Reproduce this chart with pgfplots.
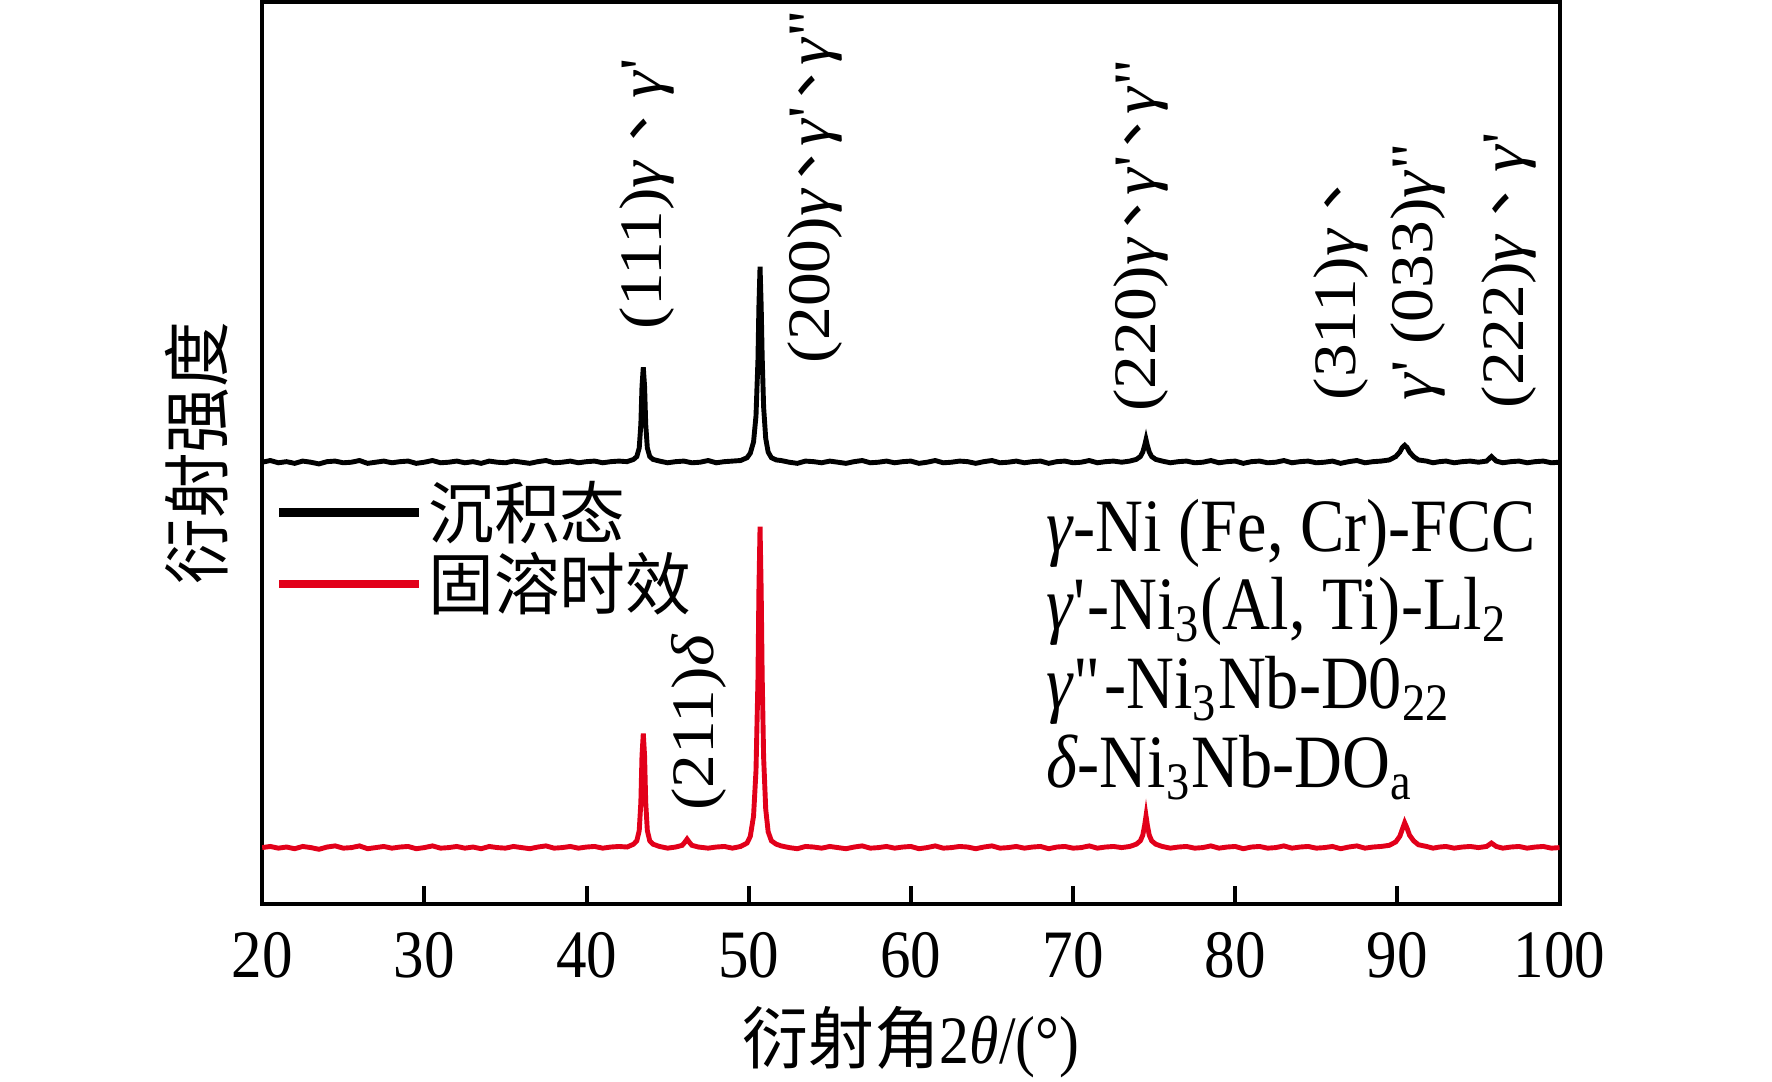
\documentclass[border=0pt]{standalone}
\usepackage{fontspec}
\setmainfont{Liberation Serif}[FakeStretch=0.88]
\newfontfamily\cjk{Noto Sans CJK SC}[FakeStretch=0.97]
\newfontfamily\cjktc{Noto Sans CJK TC}[FakeStretch=1.12]
\newfontfamily\tickfont{Liberation Serif}[FakeStretch=0.9]
\newfontfamily\rotfont{Liberation Serif}[FakeStretch=1.12]
\usepackage{pgfplots}
\pgfplotsset{compat=1.18}
\definecolor{xred}{RGB}{226,0,26}
\newcommand{\g}{\textit{γ}}
\newcommand{\dn}{\hspace{-0.05em}{\cjktc 、}\hspace{-0.05em}}
\newcommand{\dnt}{\hspace{-0.2em}{\cjktc 、}\hspace{-0.22em}}
\newcommand{\p}{\textquotesingle}
\newcommand{\pp}{\textquotedbl}
\begin{document}
\begin{tikzpicture}
\begin{axis}[
  name=ax,
  scale only axis,
  width=344.4pt, height=239.4pt,
  xmin=20, xmax=100, ymin=0, ymax=798,
  xtick={20,30,...,100},
  ytick=\empty,
  xtick pos=left,
  tick align=inside,
  major tick length=4.8pt,
  axis line style={line width=1.05pt},
  tick style={line width=1.05pt, black},
  /pgf/number format/assume math mode=true,
  xticklabel style={font=\tickfont\fontsize{18}{20}\selectfont, yshift=-3.9pt},
  xlabel={{\cjk 衍射角}2\textit{θ}/(°)},
  xlabel style={at={(axis description cs:0.5,0)}, anchor=north, yshift=-27pt, inner sep=0pt, font=\fontsize{18}{18}\selectfont},
  ylabel={\cjk 衍射强度},
  ylabel style={at={(axis description cs:-0.0253,0.5)}, anchor=south, inner sep=0pt, font=\fontsize{18}{18}\selectfont},
  legend style={at={(axis cs:20.75,380)}, anchor=north west, draw=none, fill=none, inner sep=0pt, row sep=-0.7pt, font=\fontsize{18}{18}\selectfont\cjk, nodes={inner sep=1.5pt}, /tikz/every even column/.append style={column sep=2.5pt}},
  legend cell align=left,
  legend image code/.code={\draw[#1, line width=2.2pt] (0pt,0pt) -- (37pt,0pt);},
]
\addplot[black, line width=1.3pt, mark=none] coordinates {
(20,391) (20.5,392.5) (21,390.5) (21.5,391.5) (22,390) (22.5,392) (23,391) (23.5,389.5) (24,391.5) (24.5,392)
(25,390.5) (25.5,391) (26,392.5) (26.5,390) (27,391) (27.5,392) (28,390.5) (28.5,391.5) (29,392) (29.5,390)
(30,391) (30.5,392.5) (31,390.5) (31.5,391) (32,392) (32.5,390.5) (33,391.5) (33.5,390) (34,392) (34.5,391)
(35,390.5) (35.5,392) (36,391) (36.5,390) (37,391.5) (37.5,392.5) (38,390.5) (38.5,391) (39,392) (39.5,390.5)
(40,391.5) (40.5,392) (41,390.5) (41.5,391.5) (42,392) (42.5,391.5)
(42.9,393.5) (43.1,396) (43.25,403.6) (43.35,424.6) (43.42,458) (43.5,475) (43.58,458) (43.65,424.6)
(43.75,403.6) (43.9,396) (44.1,393.5) (44.5,392) (45,390.5) (45.5,391.5) (46,392) (46.5,390.5) (47,391)
(47.5,392.5) (48,390.5) (48.5,391.5) (49,392) (49.5,392.5) (49.9,395) (50.1,399) (50.3,409)
(50.45,432) (50.57,481) (50.63,529) (50.7,564) (50.77,529) (50.83,485) (50.92,440) (51.05,412)
(51.2,400) (51.4,395) (51.7,393) (52,392.5) (52.5,391) (53,390) (53.5,392) (54,391.5) (54.5,390.5)
(55,392) (55.5,391) (56,390) (56.5,391.5) (57,392.5) (57.5,390.5) (58,391) (58.5,392) (59,390.5) (59.5,391.5)
(60,392) (60.5,390) (61,391) (61.5,392.5) (62,390.5) (62.5,391) (63,392) (63.5,391.5) (64,390) (64.5,391.5)
(65,392.5) (65.5,390.5) (66,391) (66.5,392) (67,390.5) (67.5,391.5) (68,392) (68.5,390) (69,391.5) (69.5,392)
(70,390.5) (70.5,391) (71,392.5) (71.5,390.5) (72,391.5) (72.5,392) (73,391) (73.5,392)
(73.9,393.5) (74.15,396) (74.3,400) (74.42,406) (74.5,411) (74.58,406) (74.7,400) (74.85,396) (75.1,393.5)
(75.5,392) (76,390.5) (76.5,391.5) (77,392) (77.5,390.5) (78,391) (78.5,392.5) (79,390.5) (79.5,391.5)
(80,392) (80.5,390) (81,391.5) (81.5,392) (82,390.5) (82.5,391) (83,392.5) (83.5,390.5) (84,391.5) (84.5,392)
(85,390.5) (85.5,391) (86,392) (86.5,390) (87,391.5) (87.5,392.5) (88,390.5) (88.5,391.5) (89,392)
(89.5,393) (89.9,396) (90.15,400) (90.3,404) (90.45,406) (90.6,404) (90.75,400) (91.0,396) (91.3,393)
(91.8,392) (92.2,390.5) (92.6,391.5) (93,392) (93.5,390.5) (94,391.5) (94.5,392) (95,391) (95.5,392)
(95.8,396) (96.1,392) (96.5,390.5) (97,391.5) (97.5,392) (98,390.5) (98.5,391.5) (99,392) (99.5,390.5) (100,391)
};
\addlegendentry{沉积态}
\addplot[xred, line width=1.3pt, mark=none] coordinates {
(20,50) (20.5,51) (21,49.5) (21.5,50.5) (22,49) (22.5,51) (23,50) (23.5,48.5) (24,50.5) (24.5,51.5)
(25,49.5) (25.5,50) (26,51.5) (26.5,49) (27,50) (27.5,51) (28,49.5) (28.5,50.5) (29,51) (29.5,49)
(30,50) (30.5,51.5) (31,49.5) (31.5,50) (32,51) (32.5,49.5) (33,50.5) (33.5,49) (34,51) (34.5,50)
(35,49.5) (35.5,51) (36,50) (36.5,49) (37,50.5) (37.5,51.5) (38,49.5) (38.5,50) (39,51) (39.5,49.5)
(40,50.5) (40.5,51) (41,49.5) (41.5,50.5) (42,51) (42.5,50.5)
(42.9,53) (43.1,56) (43.25,65) (43.35,90) (43.42,131) (43.5,151) (43.58,131) (43.65,90) (43.75,65)
(43.9,56) (44.1,53) (44.5,51) (45,49.5) (45.5,50.5)
(45.9,52) (46.05,54.5) (46.2,57.5) (46.35,54.5) (46.5,52) (46.9,50.5) (47.5,49.5) (48,50.5) (48.5,51)
(49,49.5) (49.5,51) (49.9,54) (50.1,60) (50.3,78) (50.45,118) (50.57,198) (50.63,277) (50.7,334)
(50.77,277) (50.83,203) (50.92,130) (51.05,84) (51.2,64) (51.4,56) (51.7,53) (52,51.5) (52.5,50) (53,49)
(53.5,51) (54,50.5) (54.5,49.5) (55,51) (55.5,50) (56,49) (56.5,50.5) (57,51.5) (57.5,49.5) (58,50)
(58.5,51) (59,49.5) (59.5,50.5) (60,51) (60.5,49) (61,50) (61.5,51.5) (62,49.5) (62.5,50) (63,51)
(63.5,50.5) (64,49) (64.5,50.5) (65,51.5) (65.5,49.5) (66,50) (66.5,51) (67,49.5) (67.5,50.5) (68,51)
(68.5,49) (69,50.5) (69.5,51) (70,49.5) (70.5,50) (71,51.5) (71.5,49.5) (72,50.5) (72.5,51) (73,50) (73.5,51)
(73.9,53) (74.15,56) (74.3,61) (74.42,70) (74.5,78) (74.58,70) (74.7,61) (74.85,56) (75.1,53)
(75.5,51) (76,49.5) (76.5,50.5) (77,51) (77.5,49.5) (78,50) (78.5,51.5) (79,49.5) (79.5,50.5) (80,51)
(80.5,49) (81,50.5) (81.5,51) (82,49.5) (82.5,50) (83,51.5) (83.5,49.5) (84,50.5) (84.5,51) (85,49.5)
(85.5,50) (86,51) (86.5,49) (87,50.5) (87.5,51.5) (88,49.5) (88.5,50.5) (89,51)
(89.5,52) (89.9,55) (90.15,60) (90.3,66) (90.45,72) (90.6,67) (90.75,61) (91.0,56) (91.3,52.5)
(91.8,51) (92.2,49.5) (92.6,50.5) (93,51) (93.5,49.5) (94,50.5) (94.5,51) (95,50) (95.5,51)
(95.8,54) (96.1,51) (96.5,49.5) (97,50.5) (97.5,51) (98,49.5) (98.5,50.5) (99,51) (99.5,49.5) (100,50)
};
\addlegendentry{固溶时效}
\begin{scope}[every node/.style={rotate=90, anchor=west, inner sep=0pt, font=\rotfont\fontsize{16}{16}\selectfont}]
\node at (axis cs:43.7,508) {(111)\g\dn\g\p};
\node at (axis cs:54.1,478) {(200)\g\dnt\g\p\dnt\g\pp};
\node at (axis cs:74.2,435) {(220)\g\dnt\g\p\dnt\g\pp};
\node at (axis cs:86.55,445) {(311)\g\dn};
\node at (axis cs:91.3,445) {\g\p\ (033)\g\pp};
\node at (axis cs:96.9,438) {(222)\g\dn\g\p};
\node at (axis cs:46.9,82) {(211)\textit{δ}};
\end{scope}
\begin{scope}[every node/.style={anchor=base west, inner sep=0pt, font=\fontsize{20}{21}\selectfont}]
\node at (axis cs:68.3,312) {\g-Ni (Fe, Cr)-FCC};
\node at (axis cs:68.3,243) {\g\p-Ni\textsubscript{3}(Al, Ti)-Ll\textsubscript{2}};
\node at (axis cs:68.3,173) {\g\pp-Ni\textsubscript{3}Nb-D0\textsubscript{22}};
\node at (axis cs:68.3,103) {\textit{δ}-Ni\textsubscript{3}Nb-DO\textsubscript{a}};
\end{scope}
\end{axis}
\path ([xshift=-69.6pt,yshift=-47.1pt]ax.south west) rectangle ([xshift=400.8pt,yshift=240pt]ax.south west);
\end{tikzpicture}
\end{document}
